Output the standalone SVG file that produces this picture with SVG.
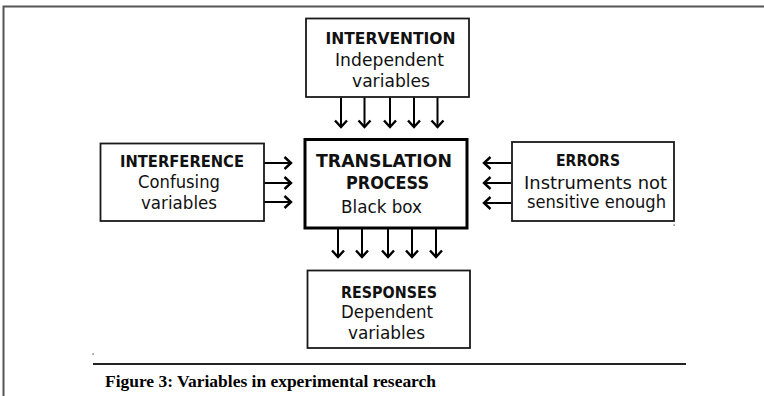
<svg xmlns="http://www.w3.org/2000/svg" width="764" height="396" viewBox="0 0 764 396">
  <style>
    .box { fill: #ffffff; stroke: #1a1a1a; stroke-width: 1.8; }
    .core { fill: #ffffff; stroke: #000000; stroke-width: 3; }
    .head { font-family: "Comic Sans MS", "DejaVu Sans", sans-serif; font-weight: bold; font-size: 16px; fill: #111; }
    .body { font-family: "Comic Sans MS", "DejaVu Sans", sans-serif; font-size: 18px; fill: #111; }
    .big { font-size: 18px; }
    .cap { font-family: "Liberation Serif", serif; font-weight: bold; font-size: 16px; fill: #000; }
    .arrow { stroke: #000; stroke-width: 2; fill: none; marker-end: url(#tip); }
    .frame { stroke: #555; stroke-width: 2; fill: none; }
  </style>
  <defs>
    <marker id="tip" markerUnits="userSpaceOnUse" markerWidth="16" markerHeight="16" viewBox="-8 -8 16 16" refX="0" refY="0" orient="auto">
      <path d="M-6.5,-6 L0,0 L-6.5,6" fill="none" stroke="#000" stroke-width="2.4" stroke-linejoin="miter"/>
    </marker>
  </defs>

  <rect width="764" height="396" fill="#ffffff"/>

  <!-- page frame -->
  <path class="frame" d="M3.5,396 V6.5 H764"/>

  <!-- connectors -->
  <g id="connectors">
    <!-- intervention into process -->
    <path class="arrow" d="M341,97 V127"/>
    <path class="arrow" d="M364.5,97 V127"/>
    <path class="arrow" d="M390,97 V127"/>
    <path class="arrow" d="M414,97 V127"/>
    <path class="arrow" d="M437.5,97 V127"/>
    <!-- process into responses -->
    <path class="arrow" d="M338,228 V257"/>
    <path class="arrow" d="M362,228 V257"/>
    <path class="arrow" d="M388,228 V257"/>
    <path class="arrow" d="M412,228 V257"/>
    <path class="arrow" d="M436,228 V257"/>
    <!-- interference into process -->
    <path class="arrow" d="M264,163 H291"/>
    <path class="arrow" d="M264,183 H291"/>
    <path class="arrow" d="M264,202 H291"/>
    <!-- errors into process -->
    <path class="arrow" d="M511,163 H484"/>
    <path class="arrow" d="M511,183 H484"/>
    <path class="arrow" d="M511,203 H484"/>
  </g>

  <g id="intervention">
    <rect class="box" x="306" y="18.5" width="163" height="78.5"/>
    <text class="head" x="390.5" y="44" text-anchor="middle" textLength="130" lengthAdjust="spacingAndGlyphs">INTERVENTION</text>
    <text class="body" x="389.5" y="66" text-anchor="middle" textLength="109" lengthAdjust="spacingAndGlyphs">Independent</text>
    <text class="body" x="391" y="87" text-anchor="middle" textLength="78" lengthAdjust="spacingAndGlyphs">variables</text>
  </g>

  <g id="process">
    <rect class="core" x="305" y="139.5" width="162" height="88.5"/>
    <text class="head big" x="384" y="167" text-anchor="middle" textLength="136" lengthAdjust="spacingAndGlyphs">TRANSLATION</text>
    <text class="head big" x="387.5" y="189" text-anchor="middle" textLength="83" lengthAdjust="spacingAndGlyphs">PROCESS</text>
    <text class="body" x="381.5" y="213" text-anchor="middle" textLength="81" lengthAdjust="spacingAndGlyphs">Black box</text>
  </g>

  <g id="interference">
    <rect class="box" x="100.5" y="143.5" width="163.5" height="77.5"/>
    <text class="head" x="182" y="167" text-anchor="middle" textLength="124" lengthAdjust="spacingAndGlyphs">INTERFERENCE</text>
    <text class="body" x="179" y="188" text-anchor="middle" textLength="82" lengthAdjust="spacingAndGlyphs">Confusing</text>
    <text class="body" x="179" y="209" text-anchor="middle" textLength="76" lengthAdjust="spacingAndGlyphs">variables</text>
  </g>

  <g id="errors">
    <rect class="box" x="512" y="142" width="162" height="79"/>
    <text class="head" x="588" y="166" text-anchor="middle" textLength="64" lengthAdjust="spacingAndGlyphs">ERRORS</text>
    <text class="body" x="595.5" y="189" text-anchor="middle" textLength="143" lengthAdjust="spacingAndGlyphs">Instruments not</text>
    <text class="body" x="596.5" y="208" text-anchor="middle" textLength="139" lengthAdjust="spacingAndGlyphs">sensitive enough</text>
  </g>

  <g id="responses">
    <rect class="box" x="307.5" y="270.5" width="162.5" height="77.5"/>
    <text class="head" x="389" y="298" text-anchor="middle" textLength="96" lengthAdjust="spacingAndGlyphs">RESPONSES</text>
    <text class="body" x="387" y="318" text-anchor="middle" textLength="92" lengthAdjust="spacingAndGlyphs">Dependent</text>
    <text class="body" x="386.5" y="339" text-anchor="middle" textLength="77" lengthAdjust="spacingAndGlyphs">variables</text>
  </g>

  <!-- stray specks -->
  <rect x="673.5" y="224.5" width="1.2" height="1.2" fill="#333"/>
  <rect x="92.5" y="353.5" width="1.2" height="1.2" fill="#333"/>

  <!-- caption rule and caption -->
  <line x1="93" y1="364" x2="686" y2="364" stroke="#222" stroke-width="2"/>
  <text class="cap" x="105" y="387" textLength="331" lengthAdjust="spacingAndGlyphs">Figure 3: Variables in experimental research</text>
</svg>
